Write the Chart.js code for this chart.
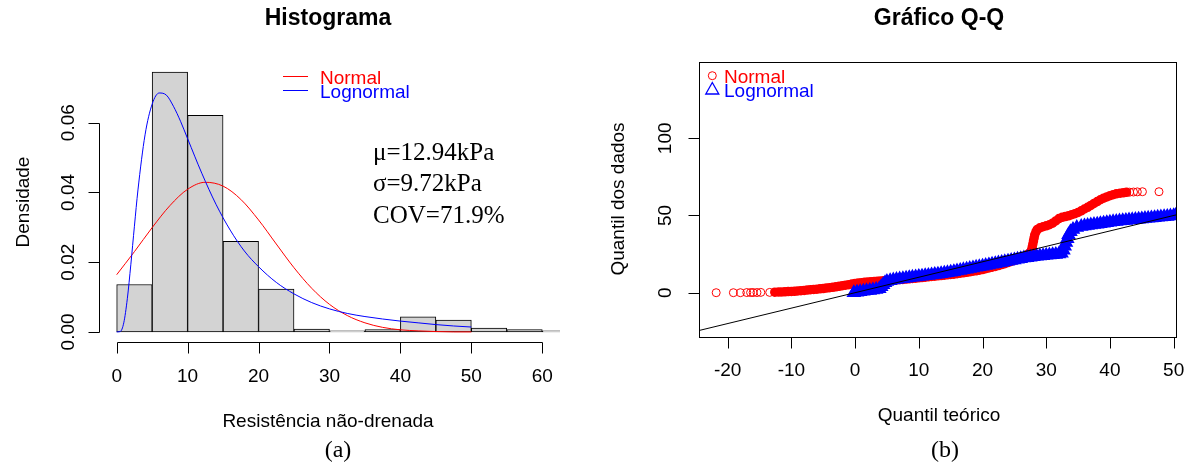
<!DOCTYPE html>
<html>
<head>
<meta charset="utf-8">
<script src="https://cdn.jsdelivr.net/npm/chart.js@4.4.1/dist/chart.umd.min.js"></script>
<style>
  html, body { margin: 0; padding: 0; background: #fff; }
  #wrap { position: relative; width: 1190px; height: 470px; }
  canvas { position: absolute; top: 0; }
</style>
</head>
<body>
<div id="wrap">
  <canvas id="hist" width="595" height="470" style="left:0"></canvas>
  <canvas id="qq" width="595" height="470" style="left:595px"></canvas>
</div>
<script>
// ---- (a) Histograma ----
const limitesClasses = [0, 5, 10, 15, 20, 25, 30, 35, 40, 45, 50, 55, 60, 65];
const densidades = [0.0136, 0.0745, 0.0621, 0.0260, 0.0123, 0.0008, 0.0003, 0.0007, 0.0043, 0.0034, 0.0011, 0.0007, 0.0003];

const xNormal = [0, 2.5, 5, 7.5, 10, 12.5, 15, 17.5, 20, 22.5, 25, 27.5, 30, 32.5, 35, 37.5, 40, 42.5, 45, 47.5, 50];
const densNormal = [0.0164, 0.0230, 0.0299, 0.0362, 0.0409, 0.0429, 0.0418, 0.0380, 0.0321, 0.0252, 0.0184,
  0.0125, 0.0079, 0.0047, 0.0026, 0.0013, 0.0006, 0.0003, 0.0001, 0.0000, 0.0000];

const xLognormal = [0, 0.5, 1, 1.5, 2, 2.5, 3, 4, 5, 6, 7, 8, 9, 10, 12, 14, 16, 18, 20, 22.5, 25, 27.5, 30,
  32.5, 35, 37.5, 40, 42.5, 45, 47.5, 50];
const densLognormal = [0, 0.0001, 0.0026, 0.0095, 0.0194, 0.0303, 0.0407, 0.0565, 0.0653, 0.0685, 0.0679,
  0.0647, 0.0604, 0.0554, 0.0455, 0.0366, 0.0292, 0.0232, 0.0187, 0.0142, 0.0109, 0.0084, 0.0066,
  0.0053, 0.0044, 0.0037, 0.0031, 0.0026, 0.0021, 0.0017, 0.0014];

const ticksXHist = [0, 10, 20, 30, 40, 50, 60];
const ticksYHist = [0, 0.02, 0.04, 0.06];
const estatisticas = ['\u03bc=12.94kPa', '\u03c3=9.72kPa', 'COV=71.9%'];

// ---- (b) Gráfico Q-Q ----
const qqNormalX = [
  -21.8, -19.1, -18.0, -17.0, -16.4, -16.0, -15.4, -14.8, -13.4, -12.6,
  -12.0, -11.5, -11.0, -10.5, -10.0, -9.5, -9.0, -8.5, -8.0, -7.5,
  -7.0, -6.5, -6.0, -5.5, -5.0, -4.5, -4.0, -3.5, -3.0, -2.5,
  -2.0, -1.5, -1.0, -0.5, 0.0, 0.5, 1.0, 1.5, 2.0, 2.5,
  3.0, 3.5, 4.0, 4.5, 5.0, 5.5, 6.0, 6.5, 7.0, 7.5,
  8.0, 8.5, 9.0, 9.5, 10.0, 10.5, 11.0, 11.5, 12.0, 12.5,
  13.0, 13.5, 14.0, 14.5, 15.0, 15.5, 16.0, 16.5, 17.0, 17.5,
  18.0, 18.5, 19.0, 19.5, 20.0, 20.5, 21.0, 21.5, 22.0, 22.5,
  23.0, 23.5, 24.0, 24.5, 25.0, 25.5, 26.0, 26.5, 27.0, 27.4,
  27.7, 27.8, 27.9, 28.0, 28.1, 28.2, 28.4, 28.6, 29.0, 29.5,
  30.0, 30.5, 31.0, 31.5, 32.0, 32.5, 33.0, 33.5, 34.0, 34.5,
  35.0, 35.5, 36.0, 36.5, 37.0, 37.5, 38.0, 38.5, 39.0, 39.5,
  40.0, 40.5, 41.0, 41.6, 42.1, 42.6, 43.1, 43.7, 44.3, 45.1,
  47.7
];
const qqNormalY = [
  0.0, 0.0, 0.0, 0.1, 0.1, 0.1, 0.1, 0.2, 0.2, 0.3,
  0.4, 0.5, 0.6, 0.7, 0.8, 0.9, 1.1, 1.3, 1.5, 1.7,
  1.9, 2.1, 2.3, 2.5, 2.7, 3.0, 3.2, 3.5, 3.8, 4.1,
  4.5, 4.9, 5.2, 5.6, 6.0, 6.3, 6.5, 6.7, 7.0, 7.1,
  7.3, 7.4, 7.6, 7.7, 7.9, 8.0, 8.2, 8.3, 8.5, 8.6,
  8.8, 9.0, 9.2, 9.4, 9.6, 9.8, 10.0, 10.3, 10.5, 10.7,
  10.9, 11.1, 11.3, 11.6, 11.8, 12.0, 12.3, 12.6, 12.9, 13.2,
  13.5, 13.9, 14.2, 14.6, 15.0, 15.5, 16.0, 16.5, 17.0, 17.6,
  18.2, 18.8, 19.5, 20.2, 21.0, 21.8, 22.6, 23.5, 24.5, 25.8,
  27.5, 29.5, 31.5, 33.5, 35.5, 37.5, 39.5, 41.0, 42.0, 42.7,
  43.3, 44.0, 45.0, 46.5, 48.0, 48.8, 49.3, 49.8, 50.5, 51.2,
  52.0, 53.0, 54.2, 55.3, 56.5, 57.8, 59.0, 60.2, 61.2, 62.0,
  62.8, 63.5, 64.0, 64.4, 64.7, 65.0, 65.1, 65.2, 65.3, 65.4,
  65.4
];
const qqLognormalX = [
  -0.2, 0.3, 0.8, 1.3, 1.8, 2.3, 2.8, 3.3, 3.8, 4.1,
  4.4, 4.7, 5.0, 5.5, 6.0, 6.5, 7.0, 7.5, 8.0, 8.5,
  9.0, 9.5, 10.0, 10.5, 11.0, 11.5, 12.0, 12.5, 13.0, 13.5,
  14.0, 14.5, 15.0, 15.5, 16.0, 16.5, 17.0, 17.5, 18.0, 18.5,
  19.0, 19.5, 20.0, 20.5, 21.0, 21.5, 22.0, 22.5, 23.0, 23.5,
  24.0, 24.5, 25.0, 25.5, 26.0, 26.5, 27.0, 27.5, 28.0, 28.5,
  29.0, 29.5, 30.0, 30.5, 31.0, 31.5, 32.0, 32.4, 32.7, 32.9,
  33.1, 33.3, 33.5, 33.8, 34.2, 34.8, 35.5, 36.0, 36.5, 37.0,
  37.5, 38.0, 38.5, 39.0, 39.5, 40.0, 40.5, 41.0, 41.5, 42.0,
  42.5, 43.0, 43.5, 44.0, 44.5, 45.0, 45.5, 46.0, 46.5, 47.0,
  47.5, 48.0, 48.5, 49.0, 49.5, 50.0, 50.3
];
const qqLognormalY = [
  0.0, 0.3, 0.6, 0.9, 1.2, 1.5, 1.8, 2.1, 2.5, 3.8,
  5.2, 6.4, 7.2, 7.8, 8.2, 8.5, 8.8, 9.1, 9.4, 9.7,
  10.0, 10.2, 10.5, 10.7, 11.0, 11.2, 11.5, 11.8, 12.0, 12.3,
  12.6, 12.9, 13.3, 13.6, 14.0, 14.4, 14.8, 15.2, 15.6, 16.0,
  16.4, 16.8, 17.2, 17.6, 18.0, 18.4, 18.8, 19.2, 19.6, 20.0,
  20.4, 20.8, 21.2, 21.6, 22.0, 22.4, 22.7, 23.0, 23.3, 23.6,
  23.8, 24.0, 24.2, 24.4, 24.6, 24.8, 25.0, 25.5, 27.5, 30.0,
  32.5, 35.0, 37.5, 39.5, 41.0, 42.2, 42.8, 43.2, 43.5, 43.8,
  44.1, 44.4, 44.7, 45.0, 45.3, 45.6, 45.9, 46.1, 46.4, 46.6,
  46.8, 47.0, 47.2, 47.4, 47.6, 47.8, 48.0, 48.2, 48.4, 48.6,
  48.8, 49.0, 49.2, 49.4, 49.6, 49.8, 50.0
];
const retaReferencia = [-30, 60]; // y = x
const ticksXQQ = [-20, -10, 0, 10, 20, 30, 40, 50];
const ticksYQQ = [0, 50, 100];

const SANS = '"Liberation Sans", Arial, sans-serif';
const SERIF = '"Liberation Serif", "Times New Roman", serif';
const VERMELHO = '#FF0000';
const AZUL = '#0000FF';

function textoVertical(ctx, txt, x, y) {
  ctx.save();
  ctx.translate(x, y);
  ctx.rotate(-Math.PI / 2);
  ctx.textAlign = 'center';
  ctx.textBaseline = 'alphabetic';
  ctx.fillText(txt, 0, 0);
  ctx.restore();
}
const px = v => Math.round(v) + 0.5;

// eixos no estilo do R (destacados do gráfico)
const desenhoHistograma = {
  id: 'desenhoHistograma',
  afterDraw(chart) {
    const { ctx, chartArea: a, scales: { x, y } } = chart;
    ctx.save();
    ctx.strokeStyle = '#000';
    ctx.fillStyle = '#000';
    ctx.lineWidth = 1;
    ctx.beginPath();
    const ex = px(a.left);
    ctx.moveTo(ex, px(y.getPixelForValue(ticksYHist[0])));
    ctx.lineTo(ex, px(y.getPixelForValue(ticksYHist[ticksYHist.length - 1])));
    ticksYHist.forEach(v => {
      const p = px(y.getPixelForValue(v));
      ctx.moveTo(ex, p); ctx.lineTo(ex - 11, p);
    });
    const ey = px(a.bottom);
    ctx.moveTo(px(x.getPixelForValue(ticksXHist[0])), ey);
    ctx.lineTo(px(x.getPixelForValue(ticksXHist[ticksXHist.length - 1])), ey);
    ticksXHist.forEach(v => {
      const p = px(x.getPixelForValue(v));
      ctx.moveTo(p, ey); ctx.lineTo(p, ey + 11);
    });
    ctx.stroke();

    ctx.font = '19px ' + SANS;
    ctx.textAlign = 'center';
    ctx.textBaseline = 'alphabetic';
    ticksXHist.forEach(v => ctx.fillText(String(v), x.getPixelForValue(v), 382));
    ticksYHist.forEach(v => textoVertical(ctx, v.toFixed(2), 73.5, y.getPixelForValue(v)));
    ctx.fillText('Resist\u00eancia n\u00e3o-drenada', 328, 427);
    textoVertical(ctx, 'Densidade', 28.5, 202);

    ctx.font = 'bold 23px ' + SANS;
    ctx.fillText('Histograma', 328, 25);

    ctx.font = '24px ' + SERIF;
    ctx.fillText('(a)', 338, 457);

    // legenda
    ctx.beginPath();
    ctx.strokeStyle = VERMELHO;
    ctx.moveTo(283, 76.5); ctx.lineTo(308, 76.5);
    ctx.stroke();
    ctx.beginPath();
    ctx.strokeStyle = AZUL;
    ctx.moveTo(283, 90.5); ctx.lineTo(308, 90.5);
    ctx.stroke();
    ctx.font = '19px ' + SANS;
    ctx.textAlign = 'left';
    ctx.fillStyle = VERMELHO;
    ctx.fillText('Normal', 320, 84);
    ctx.fillStyle = AZUL;
    ctx.fillText('Lognormal', 320, 98);

    ctx.fillStyle = '#000';
    ctx.font = '25px ' + SERIF;
    estatisticas.forEach((t, i) => ctx.fillText(t, 373, 160 + i * 31.3));
    ctx.restore();
  }
};

const desenhoQQ = {
  id: 'desenhoQQ',
  afterDraw(chart) {
    const { ctx, chartArea: a, scales: { x, y } } = chart;
    ctx.save();
    ctx.strokeStyle = '#000';
    ctx.fillStyle = '#000';
    ctx.lineWidth = 1;
    ctx.strokeRect(px(a.left), px(a.top), Math.round(a.right - a.left), Math.round(a.bottom - a.top));
    ctx.beginPath();
    ticksYQQ.forEach(v => {
      const p = px(y.getPixelForValue(v));
      ctx.moveTo(px(a.left), p); ctx.lineTo(px(a.left) - 11, p);
    });
    ticksXQQ.forEach(v => {
      const p = px(x.getPixelForValue(v));
      ctx.moveTo(p, px(a.bottom)); ctx.lineTo(p, px(a.bottom) + 11);
    });
    ctx.stroke();

    ctx.font = '19px ' + SANS;
    ctx.textAlign = 'center';
    ctx.textBaseline = 'alphabetic';
    ticksXQQ.forEach(v => ctx.fillText(String(v), x.getPixelForValue(v), 376));
    ticksYQQ.forEach(v => textoVertical(ctx, String(v), 75.7, y.getPixelForValue(v)));
    ctx.fillText('Quantil te\u00f3rico', 344, 421);
    textoVertical(ctx, 'Quantil dos dados', 28.5, 199);

    ctx.font = 'bold 23px ' + SANS;
    ctx.fillText('Gr\u00e1fico Q-Q', 344, 25);

    ctx.font = '24px ' + SERIF;
    ctx.fillText('(b)', 350, 457);

    // legenda
    ctx.beginPath();
    ctx.strokeStyle = VERMELHO;
    ctx.arc(117.3, 75.7, 4, 0, Math.PI * 2);
    ctx.stroke();
    ctx.beginPath();
    ctx.strokeStyle = AZUL;
    ctx.lineWidth = 1.3;
    ctx.moveTo(117.3, 82.5); ctx.lineTo(123.8, 94); ctx.lineTo(110.8, 94); ctx.closePath();
    ctx.stroke();
    ctx.font = '19px ' + SANS;
    ctx.textAlign = 'left';
    ctx.fillStyle = VERMELHO;
    ctx.fillText('Normal', 129, 83.3);
    ctx.fillStyle = AZUL;
    ctx.fillText('Lognormal', 129, 96.7);
    ctx.restore();
  }
};

const centros = densidades.map((d, i) => (limitesClasses[i] + limitesClasses[i + 1]) / 2);

// pontos isolados nas caudas ficam vazados; na faixa densa o R os sobrepõe até virar um traço cheio
const caudaNormal = i => i < 9 || i > qqNormalX.length - 6;

new Chart(document.getElementById('hist'), {
  type: 'bar',
  data: {
    datasets: [
      {
        type: 'line', label: 'Lognormal',
        data: xLognormal.map((v, i) => ({ x: v, y: densLognormal[i] })),
        borderColor: AZUL, borderWidth: 1, pointRadius: 0, cubicInterpolationMode: 'monotone'
      },
      {
        type: 'line', label: 'Normal',
        data: xNormal.map((v, i) => ({ x: v, y: densNormal[i] })),
        borderColor: VERMELHO, borderWidth: 1, pointRadius: 0, cubicInterpolationMode: 'monotone'
      },
      {
        type: 'bar', label: 'Histograma',
        data: centros.map((v, i) => ({ x: v, y: densidades[i] })),
        backgroundColor: '#D3D3D3', borderColor: '#000', borderWidth: 1,
        borderSkipped: false, barPercentage: 1, categoryPercentage: 1, clip: 0
      }
    ]
  },
  options: {
    responsive: false,
    animation: false,
    events: [],
    layout: { padding: { left: 99.3, right: 35, top: 61.6, bottom: 127.7 } },
    scales: {
      x: { type: 'linear', offset: false, min: -2.45, max: 62.5, display: false, ticks: { stepSize: 5, includeBounds: false } },
      y: { type: 'linear', min: -0.00298, max: 0.0775, display: false }
    },
    plugins: { legend: { display: false }, tooltip: { enabled: false } }
  },
  plugins: [desenhoHistograma]
});

new Chart(document.getElementById('qq'), {
  type: 'scatter',
  data: {
    datasets: [
      {
        label: 'Reta', showLine: true,
        data: retaReferencia.map(v => ({ x: v, y: v })),
        borderColor: '#000', borderWidth: 1, pointRadius: 0
      },
      {
        label: 'Lognormal',
        data: qqLognormalX.map((v, i) => ({ x: v, y: qqLognormalY[i] })),
        pointStyle: 'triangle', pointRadius: 7, borderColor: AZUL, borderWidth: 1.5,
        backgroundColor: AZUL, clip: 0
      },
      {
        label: 'Normal',
        data: qqNormalX.map((v, i) => ({ x: v, y: qqNormalY[i] })),
        pointStyle: 'circle', pointRadius: 4, borderColor: VERMELHO,
        borderWidth: c => caudaNormal(c.dataIndex) ? 1 : 1.5,
        backgroundColor: c => caudaNormal(c.dataIndex) ? 'rgba(0,0,0,0)' : VERMELHO,
        clip: 0
      }
    ]
  },
  options: {
    responsive: false,
    animation: false,
    events: [],
    layout: { padding: { left: 104.3, right: 14, top: 61.7, bottom: 133.3 } },
    scales: {
      x: { type: 'linear', min: -24.45, max: 50.37, display: false },
      y: { type: 'linear', min: -28.5, max: 149.6, display: false }
    },
    plugins: { legend: { display: false }, tooltip: { enabled: false } }
  },
  plugins: [desenhoQQ]
});
</script>
</body>
</html>
